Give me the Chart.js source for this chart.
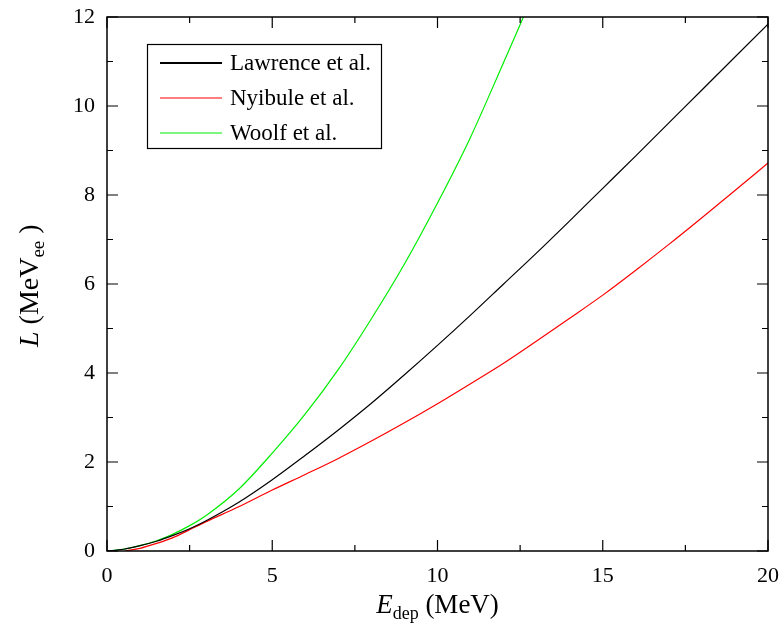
<!DOCTYPE html>
<html>
<head>
<meta charset="utf-8">
<script src="https://cdn.jsdelivr.net/npm/chart.js@4/dist/chart.umd.min.js"></script>
<style>
  html, body { margin: 0; padding: 0; background: #fff; }
  #wrap { width: 782px; height: 642px; }
</style>
</head>
<body>
<div id="wrap"><canvas id="lightChart" width="782" height="642"></canvas></div>
<script>
// ===== light yield curves, L vs deposited energy =====
const lawrenceE = [0, 0.5, 1, 1.5, 2, 2.5, 3, 4, 5, 6, 7, 8, 9, 10, 11, 12, 13, 14, 15, 16, 17, 18, 19, 20];
const lawrenceL = [0, 0.04, 0.12, 0.22, 0.35, 0.5, 0.68, 1.1, 1.6, 2.15, 2.72, 3.32, 3.96, 4.62, 5.3, 6.0, 6.7, 7.42, 8.15, 8.88, 9.62, 10.36, 11.1, 11.84];

const nyibuleE = [0.55, 1, 1.5, 2, 2.5, 3, 4, 5, 6, 7, 8, 9, 10, 11, 12, 13, 14, 15, 16, 17, 18, 19, 20];
const nyibuleL = [0, 0.06, 0.17, 0.3, 0.48, 0.66, 1.0, 1.37, 1.72, 2.08, 2.47, 2.88, 3.31, 3.76, 4.22, 4.72, 5.23, 5.75, 6.31, 6.89, 7.49, 8.1, 8.72];

const woolfE = [0, 0.5, 1, 1.5, 2, 2.5, 3, 4, 5, 6, 7, 8, 9, 10, 11, 12, 12.6];
const woolfL = [0, 0.04, 0.12, 0.23, 0.38, 0.57, 0.8, 1.4, 2.2, 3.08, 4.08, 5.22, 6.45, 7.82, 9.3, 10.98, 12.0];

const seriesNames = ['Lawrence et al.', 'Nyibule et al.', 'Woolf et al.'];
const seriesColors = ['#000000', '#ff0000', '#00ee00'];

const xMax = 20, yMax = 12;
const serif = 'Liberation Serif, Times New Roman, serif';

const toPoints = (xs, ys) => xs.map((x, i) => ({ x: x, y: ys[i] }));

// keep the plot box fixed: no extra room for overhanging tick labels
const noLabelPadding = (s) => {
  s.paddingLeft = 0; s.paddingRight = 0; s.paddingTop = 0; s.paddingBottom = 0;
};

// ===== frame, inward ticks, titles and legend box =====
const decorations = {
  id: 'decorations',
  afterDatasetsDraw(chart) {
    const ctx = chart.ctx;
    const a = chart.chartArea;
    const xs = chart.scales.x, ys = chart.scales.y;
    ctx.save();
    ctx.strokeStyle = '#000';
    ctx.lineWidth = 1.5;
    ctx.strokeRect(a.left, a.top, a.right - a.left, a.bottom - a.top);

    ctx.lineWidth = 1.2;
    ctx.beginPath();
    for (let v = 0; v <= xMax; v += 2.5) {
      const px = xs.getPixelForValue(v);
      const len = v % 5 === 0 ? 11 : 6;
      ctx.moveTo(px, a.bottom); ctx.lineTo(px, a.bottom - len);
      ctx.moveTo(px, a.top); ctx.lineTo(px, a.top + len);
    }
    for (let v = 0; v <= yMax; v += 1) {
      const py = ys.getPixelForValue(v);
      const len = v % 2 === 0 ? 11 : 6;
      ctx.moveTo(a.left, py); ctx.lineTo(a.left + len, py);
      ctx.moveTo(a.right, py); ctx.lineTo(a.right - len, py);
    }
    ctx.stroke();

    // x title: E_dep (MeV)
    ctx.fillStyle = '#000';
    ctx.textBaseline = 'alphabetic';
    ctx.textAlign = 'left';
    let big = '27px ' + serif, small = '18px ' + serif;
    ctx.font = 'italic ' + big;
    let w1 = ctx.measureText('E').width;
    ctx.font = small;
    let w2 = ctx.measureText('dep').width;
    ctx.font = big;
    let w3 = ctx.measureText(' (MeV)').width;
    let x0 = (a.left + a.right) / 2 - (w1 + w2 + w3) / 2;
    const by = 613;
    ctx.font = 'italic ' + big; ctx.fillText('E', x0, by);
    ctx.font = small; ctx.fillText('dep', x0 + w1, by + 6);
    ctx.font = big; ctx.fillText(' (MeV)', x0 + w1 + w2, by);

    // y title: L (MeV_ee), rotated, reading upward from y = 347
    ctx.save();
    ctx.translate(38, 347);
    ctx.rotate(-Math.PI / 2);
    big = '28px ' + serif; small = '19px ' + serif;
    ctx.font = 'italic ' + big;
    w1 = ctx.measureText('L').width;
    ctx.font = big;
    w2 = ctx.measureText(' (MeV').width;
    ctx.font = small;
    w3 = ctx.measureText('ee').width;
    ctx.font = 'italic ' + big; ctx.fillText('L', 0, 0);
    ctx.font = big; ctx.fillText(' (MeV', w1, 0);
    ctx.font = small; ctx.fillText('ee', w1 + w2, 6);
    ctx.font = big; ctx.fillText(' )', w1 + w2 + w3, 0);
    ctx.restore();

    // legend box
    ctx.fillStyle = '#fff';
    ctx.fillRect(147, 44, 234, 104);
    ctx.strokeStyle = '#000';
    ctx.lineWidth = 1.2;
    ctx.strokeRect(147.5, 44.5, 234, 104);
    ctx.font = '23px ' + serif;
    ctx.textBaseline = 'middle';
    seriesNames.forEach((name, i) => {
      const ry = 63 + i * 35;
      ctx.strokeStyle = seriesColors[i];
      ctx.lineWidth = i === 0 ? 2 : 1.2;
      ctx.beginPath();
      ctx.moveTo(160, ry); ctx.lineTo(222, ry);
      ctx.stroke();
      ctx.fillStyle = '#000';
      ctx.fillText(name, 230, ry + 1);
    });
    ctx.restore();
  }
};

const ctx = document.getElementById('lightChart').getContext('2d');
new Chart(ctx, {
  type: 'line',
  data: {
    datasets: [
      { label: seriesNames[0], data: toPoints(lawrenceE, lawrenceL), borderColor: seriesColors[0] },
      { label: seriesNames[1], data: toPoints(nyibuleE, nyibuleL), borderColor: seriesColors[1] },
      { label: seriesNames[2], data: toPoints(woolfE, woolfL), borderColor: seriesColors[2] }
    ]
  },
  options: {
    responsive: false,
    animation: false,
    parsing: false,
    layout: { padding: { left: 0, right: 14, top: 17, bottom: 0 } },
    elements: {
      line: { borderWidth: 1.2, cubicInterpolationMode: 'monotone', fill: false },
      point: { radius: 0 }
    },
    plugins: { legend: { display: false }, tooltip: { enabled: false } },
    scales: {
      x: {
        type: 'linear', min: 0, max: xMax,
        grid: { display: false, drawTicks: false },
        border: { display: false },
        ticks: {
          stepSize: 2.5, autoSkip: false, maxRotation: 0, padding: 12,
          color: '#000', font: { family: serif, size: 22 },
          callback: (v) => (v % 5 === 0 ? String(v) : '')
        },
        afterFit: (s) => { s.height = 91; noLabelPadding(s); }
      },
      y: {
        type: 'linear', min: 0, max: yMax,
        grid: { display: false, drawTicks: false },
        border: { display: false },
        ticks: {
          stepSize: 1, autoSkip: false, padding: 12,
          color: '#000', font: { family: serif, size: 22 },
          callback: (v) => (v % 2 === 0 ? String(v) : '')
        },
        afterFit: (s) => { s.width = 107; noLabelPadding(s); }
      }
    }
  },
  plugins: [decorations]
});
</script>
</body>
</html>
